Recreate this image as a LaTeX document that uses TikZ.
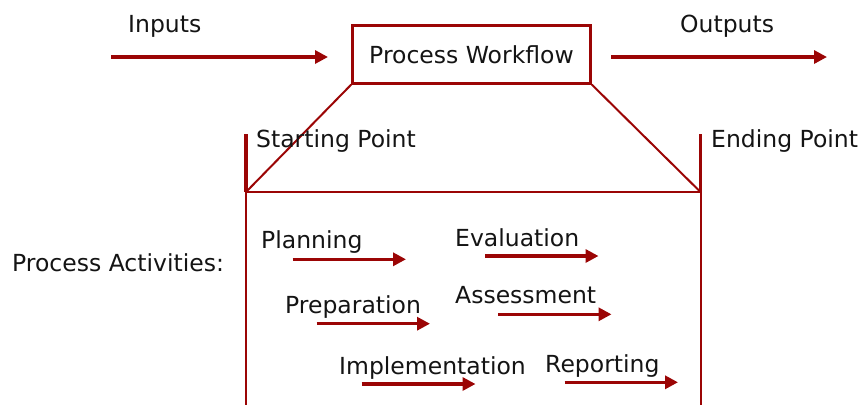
\documentclass[tikz,border=0pt]{standalone}
\usepackage{fontspec}
\setmainfont{DejaVu Sans}
\usetikzlibrary{arrows.meta}
\definecolor{dred}{RGB}{155,5,5}
\tikzset{
  lbl/.style={inner sep=0pt, anchor=base west, font=\fontsize{23.5}{28}\selectfont, text=black!92},
  flow/.style={draw=dred, line width=3.2pt, -{Triangle[length=13pt,width=13pt]}},
  hairline/.style={draw=dred, line width=2pt},
  boldline/.style={draw=dred, line width=3.6pt},
}
\begin{document}
\begin{tikzpicture}[x=1pt,y=-1pt]
\useasboundingbox (0,0) rectangle (862,405);
% top row
\node[lbl] (inputs) at (128,32) {Inputs};
\node[lbl] (outputs) at (680,32) {Outputs};
\node[draw=dred, line width=2.6pt, minimum width=238pt, minimum height=58pt, inner sep=0pt,
      font=\fontsize{23.5}{28}\selectfont, text=black!92] (pw) at (471.5,54.3) {Process Workflow};
\coordinate (inA) at (111,57);
\coordinate (inB) at (328,57);
\coordinate (outA) at (611,57);
\coordinate (outB) at (827,57);
\draw[flow] (inA) -- (inB);
\draw[flow] (outA) -- (outB);
% trapezoid
\coordinate (sp) at (246,192);
\coordinate (ep) at (700.5,192);
\coordinate (spTop) at (246,134);
\coordinate (epTop) at (700.5,134);
\coordinate (spBot) at (246,405);
\coordinate (epBot) at (700.5,405);
\draw[hairline] (pw.south west) -- (sp);
\draw[hairline] (pw.south east) -- (ep);
\draw[hairline] (sp) -- (ep);
\draw[boldline] (spTop) -- (sp);
\draw[boldline] (epTop) -- (ep);
\draw[hairline] (sp) -- (spBot);
\draw[hairline] (ep) -- (epBot);
\node[lbl] (start) at (256,147) {Starting Point};
\node[lbl] (end) at (711,147) {Ending Point};
% activities
\node[lbl] (pa) at (12,271) {Process Activities:};
\node[lbl] (plan) at (261,248.5) {Planning};
\node[lbl] (eval) at (455,246) {Evaluation};
\node[lbl] (prep) at (285,313.5) {Preparation};
\node[lbl] (assess) at (455,303.5) {Assessment};
\node[lbl] (impl) at (339,374.5) {Implementation};
\node[lbl] (rep) at (545,372) {Reporting};
\coordinate (a1) at (292.5,259.3); \coordinate (b1) at (406,259.3);
\coordinate (a2) at (485,256);     \coordinate (b2) at (598.5,256);
\coordinate (a3) at (316.5,323.7); \coordinate (b3) at (430,323.7);
\coordinate (a4) at (498,314.3);   \coordinate (b4) at (611.5,314.3);
\coordinate (a5) at (361.5,384);   \coordinate (b5) at (475.5,384);
\coordinate (a6) at (564.5,382.3); \coordinate (b6) at (678,382.3);
\draw[flow] (a1) -- (b1);
\draw[flow] (a2) -- (b2);
\draw[flow] (a3) -- (b3);
\draw[flow] (a4) -- (b4);
\draw[flow] (a5) -- (b5);
\draw[flow] (a6) -- (b6);
\end{tikzpicture}
\end{document}
